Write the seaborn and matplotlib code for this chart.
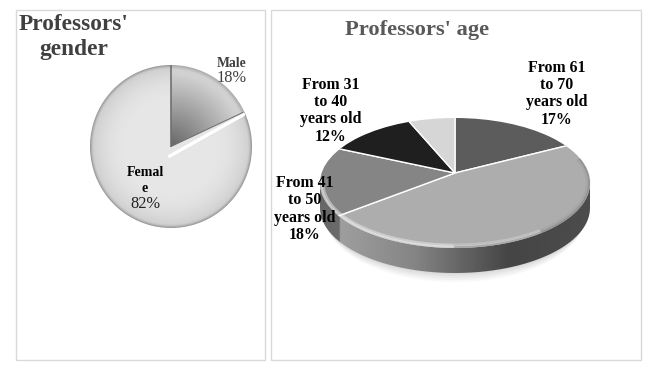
import numpy as np
import matplotlib.pyplot as plt
from matplotlib.patches import Ellipse, Rectangle, PathPatch
from matplotlib.path import Path
import seaborn as sns

gender_labels = ['Male', 'Female']
gender_values = [18, 82]
gender_colors = ['#a0a0a0', '#dcdcdc']

age_labels = ['From 61 to 70 years old', 'From 51 to 60 years old', 'From 41 to 50 years old',
              'From 31 to 40 years old', 'Up to 30 years old']
age_values = [17, 47, 18, 12, 6]
age_colors = ['#5c5c5c', '#adadad', '#858585', '#1f1f1f', '#d6d6d6']

W, H = 655, 368
sns.set_theme(style="white")
plt.rcParams['font.family'] = ['Liberation Serif', 'DejaVu Serif']

fig = plt.figure(figsize=(W / 100, H / 100), dpi=100, facecolor='white')


def pixel_axes(x0, y0, x1, y1, z=1):
    # axes placed with image pixels, y counted from the top
    ax = fig.add_axes([x0 / W, 1 - y1 / H, (x1 - x0) / W, (y1 - y0) / H], zorder=z)
    ax.axis('off')
    return ax


# panel frames and all text live on a plain pixel overlay
back = pixel_axes(0, 0, W, H, 0)
back.set_xlim(0, W)
back.set_ylim(H, 0)
for x0, x1 in [(15.5, 265), (270.5, 640.5)]:
    back.add_patch(Rectangle((x0, 9.5), x1 - x0, 350.5, fc='white', ec='#d9d9d9', lw=1))

# ---- left pie
ax1 = pixel_axes(90, 65, 252, 228)
w1, _ = ax1.pie(gender_values, colors=gender_colors, startangle=90, counterclock=False, radius=1)
ax1.set_aspect('auto')
gx, gy = np.meshgrid(np.linspace(-1, 1, 300), np.linspace(1, -1, 300))
rr = np.hypot(gx, gy)
# female: flat light face that darkens at the rim
shade_f = 0.90 - 0.10 * np.clip((rr - 0.55) / 0.45, 0, 1) ** 2 - 0.22 * np.clip((rr - 0.95) / 0.05, 0, 1) ** 2
im = ax1.imshow(shade_f, extent=(-1, 1, -1, 1), cmap='gray', vmin=0, vmax=1, aspect='auto', zorder=2)
im.set_clip_path(w1[1])
# male: dark at the centre, light towards the rim
shade_m = 0.40 + 0.42 * np.clip(rr / 0.9, 0, 1) - 0.15 * np.clip((rr - 0.95) / 0.05, 0, 1)
im = ax1.imshow(shade_m, extent=(-1, 1, -1, 1), cmap='gray', vmin=0, vmax=1, aspect='auto', zorder=2)
im.set_clip_path(w1[0])
ang = np.deg2rad(90 - 360 * gender_values[0] / sum(gender_values))
ax1.plot([0, 0], [0, 1], color='#707070', lw=1.2, zorder=3, solid_capstyle='butt')
# white gap under the male slice, narrowing to the vertex
ax1.plot([-0.02, 0.99 * np.cos(ang)], [-0.12, 0.99 * np.sin(ang) - 0.03], color='white', lw=2.4, zorder=3)
ax1.plot([0, 0.98 * np.cos(ang)], [0, 0.98 * np.sin(ang)], color='#6a6a6a', lw=0.7, zorder=3)
ax1.set_xlim(-1, 1)
ax1.set_ylim(-1, 1)

# ---- right pie, squashed; the vertex sits above the middle of the ellipse
RX, RY = 135, 60
DEPTH = 25
top_cy = -10 / RY
top_h = 130 / RY
ax2 = pixel_axes(455 - RX - 12, 173 - 1.0 * RY, 455 + RX + 12, 173 + 110)
x_lim = (RX + 12) / RX


def reset_limits():
    ax2.set_xlim(-x_lim, x_lim)
    ax2.set_ylim(-110 / RY, 1.0)


reset_limits()

# soft shadow below the disc
for k, a in zip([9, 7, 5, 3, 1], [0.05, 0.06, 0.07, 0.08, 0.1]):
    ax2.add_patch(Ellipse((0, top_cy - (DEPTH + k) / RY), 2 - 0.01 * k, top_h, fc='#888888', ec='none',
                          alpha=a, zorder=1))

# side wall with horizontal gradient
th = np.linspace(np.pi, 2 * np.pi, 120)
ex, ey = np.cos(th), top_cy + top_h / 2 * np.sin(th)
dy = DEPTH / RY
verts = np.r_[np.c_[ex, ey - dy], np.c_[ex[::-1], ey[::-1]], [[ex[0], ey[0] - dy]]]
wall = PathPatch(Path(verts), fc='none', ec='none', zorder=2)
ax2.add_patch(wall)
xs = np.linspace(-1, 1, 400)
wall_shade = np.interp(xs, [-1, -0.86, -0.85, -0.3, 0.4, 1], [0.40, 0.42, 0.62, 0.52, 0.27, 0.30])
im = ax2.imshow(wall_shade[None, :], extent=(-1, 1, -2, 1), cmap='gray', vmin=0, vmax=1, aspect='auto', zorder=2)
im.set_clip_path(wall)
reset_limits()

# top face
w2, _ = ax2.pie(age_values, colors=age_colors, startangle=90, counterclock=False, radius=1.5)
clip = Ellipse((0, top_cy), 2, top_h, fc='none', ec='none')
ax2.add_patch(clip)
for w in w2:
    w.set_zorder(3)
    w.set_clip_on(True)  # pie turns clipping off
    w.set_clip_path(clip)
ax2.set_aspect('auto')
reset_limits()

# bevel: light along the front left, dark on the right where the face turns away
th_l = np.linspace(np.pi * 0.98, 1.72 * np.pi, 120)
th_r = np.linspace(1.5 * np.pi, 2.12 * np.pi, 100)
for t, off, col, lw, al in [
    (th_l, 3.0, '#f2f2f2', 2.0, 0.45),
    (th_l, 1.2, '#ffffff', 1.5, 0.5),
    (th_r, 2.5, '#8c8c8c', 2.5, 0.2),
    (th_r, 0.8, '#6e6e6e', 1.5, 0.35),
]:
    ax2.plot(np.cos(t) * (1 - off / RX), top_cy + (top_h / 2 - off / RY) * np.sin(t),
             color=col, lw=lw, alpha=al, zorder=4, solid_capstyle='round')
reset_limits()

# ---- text on its own overlay so it sits above the pies
top = pixel_axes(0, 0, W, H, 5)
top.set_xlim(0, W)
top.set_ylim(H, 0)
top.patch.set_alpha(0)


def label(x, y, txt, size, color='black', bold=True):
    top.text(x, y, txt, ha='center', va='center', fontsize=size, color=color,
             fontweight='bold' if bold else 'normal')


label(73.5, 24, "Professors'", 16.8, '#404040')
label(73.5, 49, "gender", 16.8, '#404040')
label(417, 30.5, "Professors' age", 16.2, '#595959')

label(232, 63.5, gender_labels[0], 9.8, '#404040')
label(232, 78.5, '18%', 11.8, '#404040', bold=False)
label(145, 172, 'Femal', 10, 'black')
label(145, 188, 'e', 10, 'black')
label(145, 204, '82%', 11.8, '#222222', bold=False)

for x, ys, lines in [
    (557, [68, 85, 102, 120], ['From 61', 'to 70', 'years old', '17%']),
    (331, [85, 102, 119, 137], ['From 31', 'to 40', 'years old', '12%']),
    (305, [183, 200, 218, 235], ['From 41', 'to 50', 'years old', '18%']),
]:
    for y, t in zip(ys, lines):
        label(x, y, t, 11.4, 'black')

fig.savefig('out.png', dpi=100, facecolor='white')
